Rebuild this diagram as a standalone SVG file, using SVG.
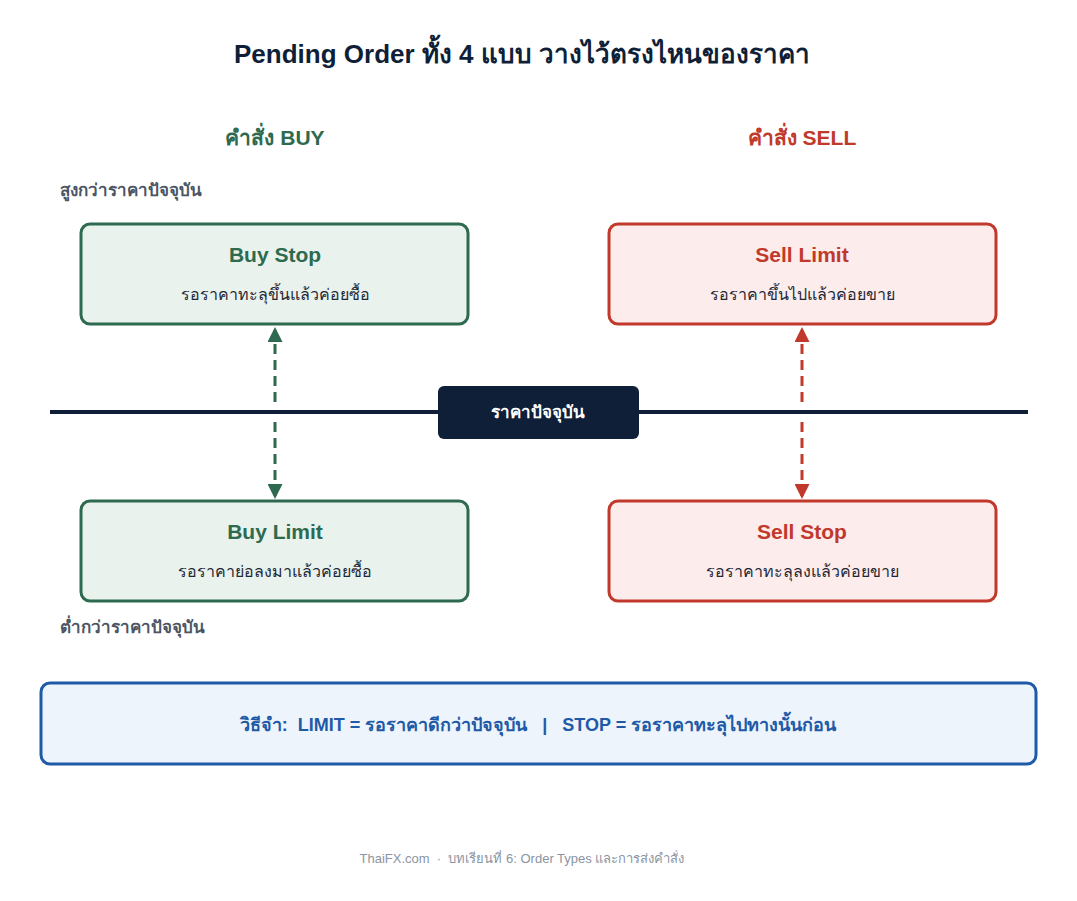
<svg xmlns="http://www.w3.org/2000/svg" width="1077" height="901" viewBox="0 0 1077 901">
<style>
text{font-family:"Liberation Sans","Noto Sans",sans-serif;text-anchor:middle}
.t{font-size:21px;font-weight:bold}
.s{font-size:16px;fill:#1f2937}
.g{fill:#e9f2ec;stroke:#2d6a4f;stroke-width:3}
.r{fill:#fdecec;stroke:#c0392b;stroke-width:3}
</style>
<defs>
<marker id="ag" viewBox="0 0 10 10" refX="8" refY="5" markerWidth="5" markerHeight="5" orient="auto-start-reverse"><path d="M0,0L10,5L0,10z" fill="#2d6a4f"/></marker>
<marker id="ar" viewBox="0 0 10 10" refX="8" refY="5" markerWidth="5" markerHeight="5" orient="auto-start-reverse"><path d="M0,0L10,5L0,10z" fill="#c0392b"/></marker>
</defs>
<rect width="1077" height="901" fill="#fff"/>
<text x="522" y="63" style="font-size:26px;font-weight:bold;fill:#0f1f38">Pending Order ทั้ง 4 แบบ วางไว้ตรงไหนของราคา</text>
<text x="275" y="145" class="t" fill="#2d6a4f">คำสั่ง BUY</text>
<text x="802" y="145" class="t" fill="#c0392b">คำสั่ง SELL</text>
<text x="60" y="196" style="font-size:17px;font-weight:bold;fill:#4b5563;text-anchor:start">สูงกว่าราคาปัจจุบัน</text>
<text x="60" y="633" style="font-size:17px;font-weight:bold;fill:#4b5563;text-anchor:start">ต่ำกว่าราคาปัจจุบัน</text>
<g id="connectors" stroke-width="3" stroke-dasharray="10,6">
<line x1="50" y1="412" x2="1028" y2="412" stroke="#0f1f38" stroke-width="4" stroke-dasharray="none"/>
<line x1="275" y1="402" x2="275" y2="330" stroke="#2d6a4f" marker-end="url(#ag)"/>
<line x1="275" y1="422" x2="275" y2="496" stroke="#2d6a4f" marker-end="url(#ag)"/>
<line x1="802" y1="402" x2="802" y2="330" stroke="#c0392b" marker-end="url(#ar)"/>
<line x1="802" y1="422" x2="802" y2="496" stroke="#c0392b" marker-end="url(#ar)"/>
</g>
<g id="current"><rect x="438" y="386" width="201" height="53" rx="6" fill="#0f1f38"/><text x="538" y="418" style="font-size:17px;font-weight:bold;fill:#fff">ราคาปัจจุบัน</text></g>
<g id="buystop"><rect x="81" y="224" width="387" height="100" rx="9" class="g"/><text x="275" y="262" class="t" fill="#2d6a4f">Buy Stop</text><text x="275" y="300" class="s">รอราคาทะลุขึ้นแล้วค่อยซื้อ</text></g>
<g id="selllimit"><rect x="609" y="224" width="387" height="100" rx="9" class="r"/><text x="802" y="262" class="t" fill="#c0392b">Sell Limit</text><text x="802" y="300" class="s">รอราคาขึ้นไปแล้วค่อยขาย</text></g>
<g id="buylimit"><rect x="81" y="501" width="387" height="100" rx="9" class="g"/><text x="275" y="539" class="t" fill="#2d6a4f">Buy Limit</text><text x="275" y="577" class="s">รอราคาย่อลงมาแล้วค่อยซื้อ</text></g>
<g id="sellstop"><rect x="609" y="501" width="387" height="100" rx="9" class="r"/><text x="802" y="539" class="t" fill="#c0392b">Sell Stop</text><text x="802" y="577" class="s">รอราคาทะลุลงแล้วค่อยขาย</text></g>
<g id="tip"><rect x="41" y="683" width="995" height="81" rx="9" fill="#edf4fc" stroke="#1f5aa6" stroke-width="3"/><text x="538" y="731" style="font-size:18px;font-weight:bold;fill:#1f5aa6;white-space:pre" xml:space="preserve">วิธีจำ:  LIMIT = รอราคาดีกว่าปัจจุบัน   |   STOP = รอราคาทะลุไปทางนั้นก่อน</text></g>
<text x="522" y="863" style="font-size:13px;fill:#8a94a3;white-space:pre" xml:space="preserve">ThaiFX.com  ·  บทเรียนที่ 6: Order Types และการส่งคำสั่ง</text>
</svg>
